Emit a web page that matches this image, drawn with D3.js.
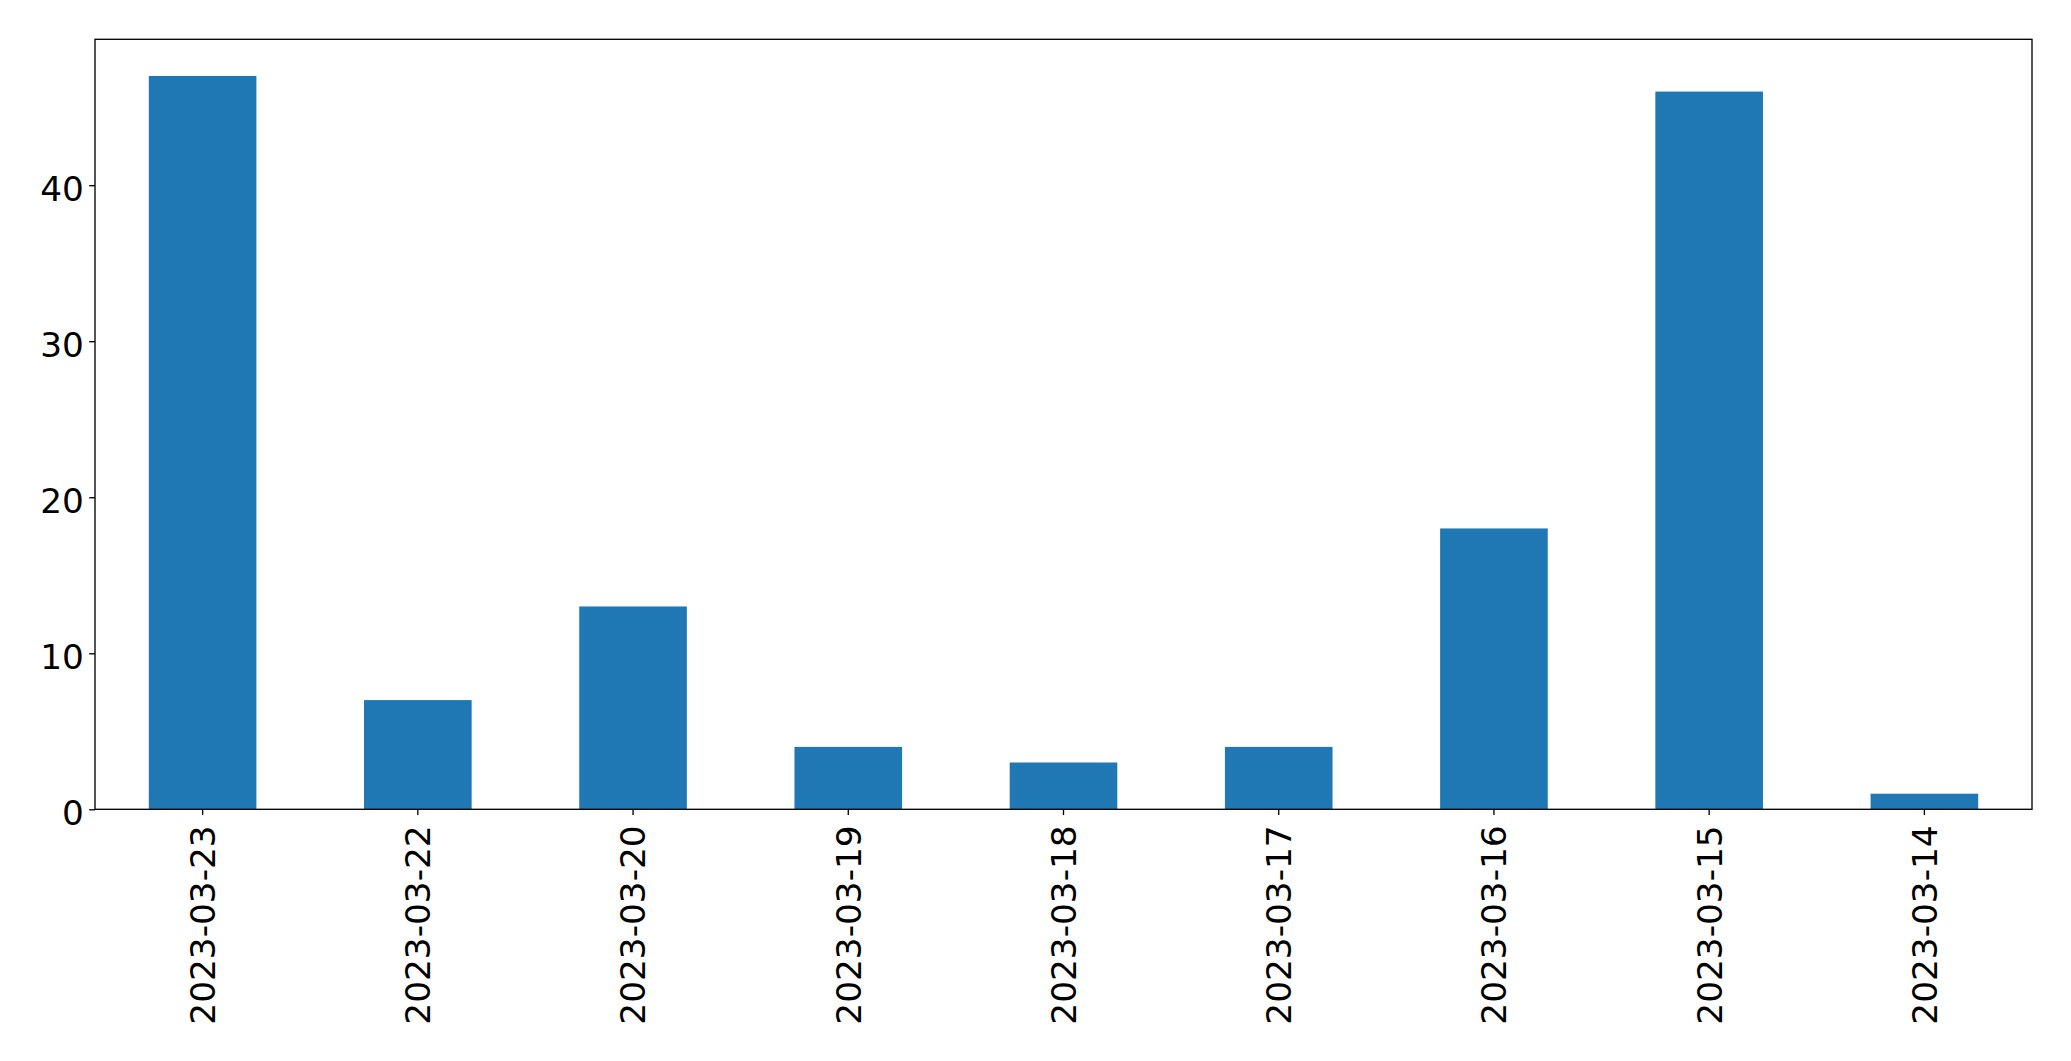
<!DOCTYPE html>
<html>
<head>
<meta charset="utf-8">
<script src="https://cdn.jsdelivr.net/npm/d3@7"></script>
<style>
html,body{margin:0;padding:0;background:#fff;}
svg{display:block;}
</style>
</head>
<body>
<svg id="chart" width="2071" height="1061"></svg>
<script>
const categories = ["2023-03-23","2023-03-22","2023-03-20","2023-03-19","2023-03-18","2023-03-17","2023-03-16","2023-03-15","2023-03-14"];
const values = [47, 7, 13, 4, 3, 4, 18, 46, 1];
const yTicks = [0, 10, 20, 30, 40];

const W = 2071, H = 1061;
const m = {left: 95, right: 2032, top: 39.3, bottom: 809.3};
const fontSize = 34.3;
const tickLen = 5.8, pad = 5.3;

const svg = d3.select("#chart");

const x = d3.scaleBand().domain(categories).range([m.left, m.right]).paddingInner(0.5).paddingOuter(0.25);
const y = d3.scaleLinear().domain([0, d3.max(values) * 1.05]).range([m.bottom, m.top]);

svg.append("g").selectAll("rect").data(values).join("rect")
  .attr("x", (d, i) => x(categories[i]))
  .attr("width", x.bandwidth())
  .attr("y", d => y(d))
  .attr("height", d => y(0) - y(d))
  .attr("fill", "#1f77b4");

const font = "'DejaVu Sans', sans-serif";

// Y axis
const ya = svg.append("g").attr("transform", `translate(${m.left},0)`)
  .call(d3.axisLeft(y).tickValues(yTicks).tickSize(tickLen).tickPadding(pad).tickFormat(d3.format("d")));
ya.select(".domain").remove();
ya.selectAll("line").attr("stroke", "#000").attr("stroke-width", 1.33);
ya.selectAll("text").attr("font-family", font).attr("font-size", fontSize).attr("fill", "#000")
  .attr("dy", "0.44em");

// X axis
const xa = svg.append("g").attr("transform", `translate(0,${m.bottom})`)
  .call(d3.axisBottom(x).tickSize(tickLen).tickPadding(pad));
xa.select(".domain").remove();
xa.selectAll("line").attr("stroke", "#000").attr("stroke-width", 1.33);
xa.selectAll("text")
  .attr("font-family", font).attr("font-size", fontSize).attr("fill", "#000")
  .attr("y", 0).attr("x", 0).attr("dy", "0.36em")
  .attr("text-anchor", "end")
  .attr("transform", `translate(0,16) rotate(-90)`);

// frame
svg.append("rect")
  .attr("x", m.left).attr("y", m.top)
  .attr("width", m.right - m.left).attr("height", m.bottom - m.top)
  .attr("fill", "none").attr("stroke", "#000").attr("stroke-width", 1.33);
</script>
</body>
</html>
